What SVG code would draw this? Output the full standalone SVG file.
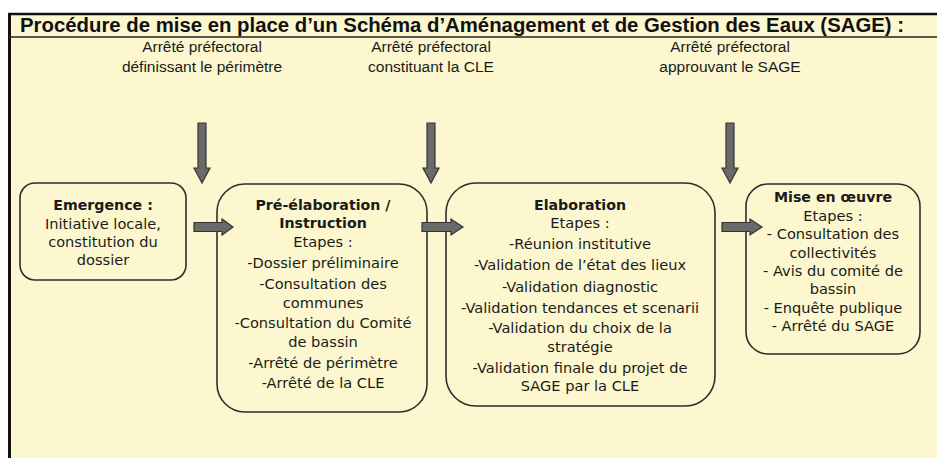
<svg xmlns="http://www.w3.org/2000/svg" width="937" height="458" viewBox="0 0 937 458">
<style>
.bg{fill:#fcf7cf}
.box{fill:#fcf7cf;stroke:#2e2e2e;stroke-width:1.6}
.t{font-family:"DejaVu Sans","Liberation Sans",sans-serif;font-size:14.6px;fill:#1a1a1a;text-anchor:middle}
.b{font-weight:bold;font-size:14.2px}
.lab{font-family:"Liberation Sans",Arial,sans-serif;font-size:15.5px;fill:#1a1a1a;text-anchor:middle}
.title{font-family:"Liberation Sans",Arial,sans-serif;font-size:19.5px;font-weight:bold;fill:#111}
.arr{fill:#6a6a6a;stroke:#333;stroke-width:1.2;stroke-linejoin:miter}
</style>
<rect x="0" y="0" width="937" height="458" fill="#ffffff"/>
<rect class="bg" x="9" y="14" width="928" height="444"/>
<line x1="8" y1="14" x2="937" y2="14" stroke="#111" stroke-width="2.5"/>
<line x1="9.5" y1="13" x2="9.5" y2="458" stroke="#111" stroke-width="3"/>
<line x1="9" y1="37" x2="937" y2="37" stroke="#222" stroke-width="1.5"/>
<text class="title" x="20" y="32" textLength="884" lengthAdjust="spacingAndGlyphs">Procédure de mise en place d’un Schéma d’Aménagement et de Gestion des Eaux (SAGE) :</text>

<g id="label-perimetre">
<text class="lab" x="202" y="52">Arrêté préfectoral</text>
<text class="lab" x="202" y="72">définissant le périmètre</text>
</g>
<g id="label-cle">
<text class="lab" x="431" y="52">Arrêté préfectoral</text>
<text class="lab" x="431" y="72">constituant la CLE</text>
</g>
<g id="label-sage">
<text class="lab" x="730" y="52">Arrêté préfectoral</text>
<text class="lab" x="730" y="72">approuvant le SAGE</text>
</g>

<g id="emergence">
<rect class="box" x="20" y="183" width="166" height="97" rx="15"/>
<text class="t b" x="103" y="210">Emergence :</text>
<text class="t" x="103" y="229">Initiative locale,</text>
<text class="t" x="103" y="247">constitution du</text>
<text class="t" x="103" y="265">dossier</text>
</g>

<g id="pre-elaboration">
<rect class="box" x="217" y="184" width="210" height="228" rx="28"/>
<text class="t b" x="323" y="210">Pré-élaboration /</text>
<text class="t b" x="323" y="228">Instruction</text>
<text class="t" x="323" y="247">Etapes :</text>
<text class="t" x="323" y="268">-Dossier préliminaire</text>
<text class="t" x="323" y="289">-Consultation des</text>
<text class="t" x="323" y="308">communes</text>
<text class="t" x="323" y="328">-Consultation du Comité</text>
<text class="t" x="323" y="347">de bassin</text>
<text class="t" x="323" y="368">-Arrêté de périmètre</text>
<text class="t" x="323" y="388">-Arrêté de la CLE</text>
</g>

<g id="elaboration">
<rect class="box" x="446" y="183" width="269" height="223" rx="30"/>
<text class="t b" x="580" y="210">Elaboration</text>
<text class="t" x="580" y="228">Etapes :</text>
<text class="t" x="580" y="249">-Réunion institutive</text>
<text class="t" x="580" y="270">-Validation de l’état des lieux</text>
<text class="t" x="580" y="292">-Validation diagnostic</text>
<text class="t" x="580" y="313">-Validation tendances et scenarii</text>
<text class="t" x="580" y="333">-Validation du choix de la</text>
<text class="t" x="580" y="352">stratégie</text>
<text class="t" x="580" y="373">-Validation finale du projet de</text>
<text class="t" x="580" y="391">SAGE par la CLE</text>
</g>

<g id="mise-en-oeuvre">
<rect class="box" x="746" y="184" width="174" height="170" rx="22"/>
<text class="t b" x="833" y="202">Mise en œuvre</text>
<text class="t" x="833" y="221">Etapes :</text>
<text class="t" x="833" y="239">- Consultation des</text>
<text class="t" x="833" y="258">collectivités</text>
<text class="t" x="833" y="276">- Avis du comité de</text>
<text class="t" x="833" y="294">bassin</text>
<text class="t" x="833" y="313">- Enquête publique</text>
<text class="t" x="833" y="331">- Arrêté du SAGE</text>
</g>

<g id="connectors">
<path class="arr" d="M198,123 H206 V168 H210 L202,183 L194,168 H198 Z"/>
<path class="arr" d="M427,123 H435 V168 H439 L431,183 L423,168 H427 Z"/>
<path class="arr" d="M726,123 H734 V168 H738 L730,183 L722,168 H726 Z"/>
<path class="arr" d="M194,222.5 H222 V219 L233,227 L222,235 V231.5 H194 Z"/>
<path class="arr" d="M422,222.5 H451 V219 L463,227 L451,235 V231.5 H422 Z"/>
<path class="arr" d="M722,222.5 H750 V219 L762,227 L750,235 V231.5 H722 Z"/>
</g>
</svg>
